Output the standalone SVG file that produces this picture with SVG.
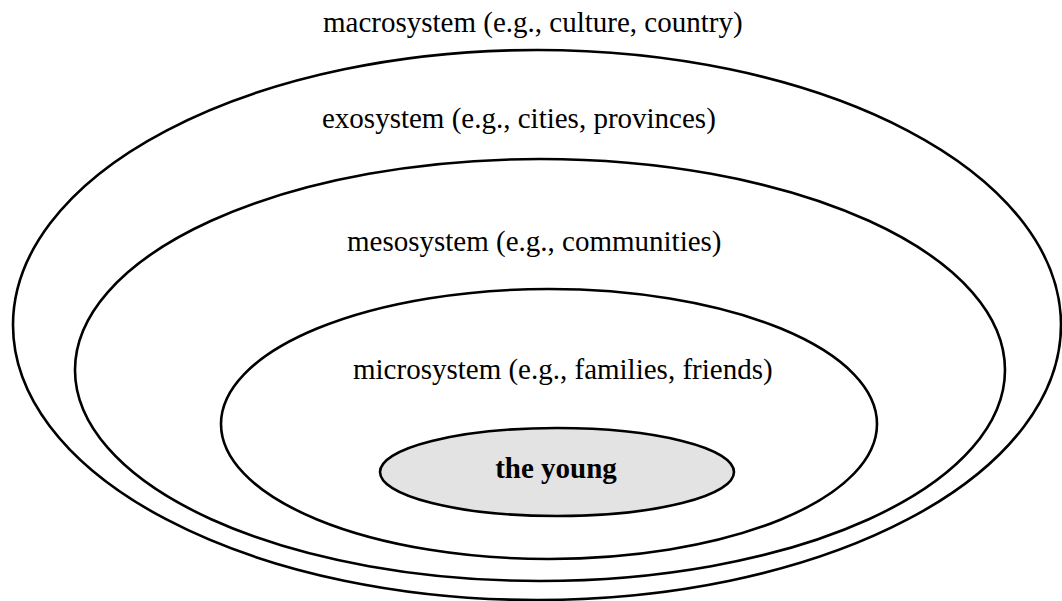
<svg xmlns="http://www.w3.org/2000/svg" width="1062" height="601" viewBox="0 0 1062 601">
  <style>
    .ring { fill: none; stroke: #000; stroke-width: 2.6; }
    .core { fill: #e3e3e3; stroke: #000; stroke-width: 2.6; }
    .lbl { font-family: "Liberation Serif", "Times New Roman", serif; font-size: 29px; fill: #000; }
    .bold { font-weight: bold; }
  </style>
  <rect width="1062" height="601" fill="#fff"/>
  <g id="macrosystem">
    <text class="lbl" x="323" y="32">macrosystem (e.g., culture, country)</text>
  </g>
  <g id="exosystem">
    <ellipse class="ring" cx="537" cy="325" rx="524" ry="275"/>
    <text class="lbl" x="322" y="128">exosystem (e.g., cities, provinces)</text>
  </g>
  <g id="mesosystem">
    <ellipse class="ring" cx="540" cy="370" rx="465" ry="211"/>
    <text class="lbl" x="347" y="251">mesosystem (e.g., communities)</text>
  </g>
  <g id="microsystem">
    <ellipse class="ring" cx="549" cy="424" rx="328" ry="135"/>
    <text class="lbl" x="353" y="379">microsystem (e.g., families, friends)</text>
  </g>
  <g id="the-young">
    <ellipse class="core" cx="557" cy="472" rx="177" ry="44"/>
    <text class="lbl bold" x="556" y="478" text-anchor="middle">the young</text>
  </g>
  <g id="connectors"/>
</svg>
